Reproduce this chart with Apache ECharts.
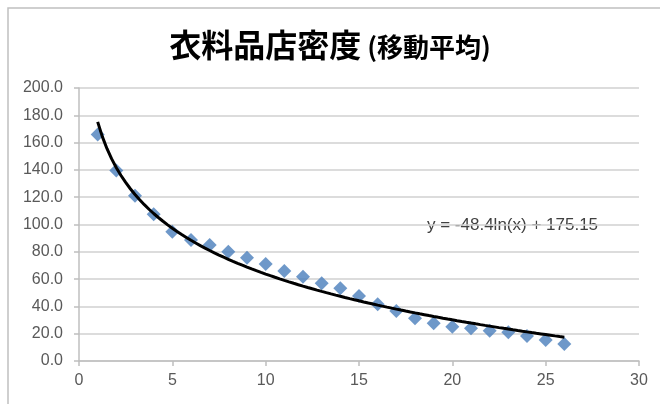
<!DOCTYPE html>
<html><head><meta charset="utf-8">
<script src="https://cdn.jsdelivr.net/npm/echarts@6/dist/echarts.min.js"></script>
<style>html,body{margin:0;padding:0;background:#fff}#c{width:660px;height:404px}</style>
</head><body><div id="c"></div>
<script>
const titleMain = '衣料品店密度';
const titleSub = '(移動平均)';
const xValues = [1,2,3,4,5,6,7,8,9,10,11,12,13,14,15,16,17,18,19,20,21,22,23,24,25,26];
const yValues = [166,139.5,121,107.5,94.7,88.6,85,80,75.7,71,66,61.8,57,53.3,47.6,41.5,36.6,31.3,27.6,25.1,24,22.2,21,18.3,15.4,12.5];
const trendA = -48.4, trendB = 175.15;
const trendLabel = 'y = -48.4ln(x) + 175.15';
const xTicks = [0,5,10,15,20,25,30];

const pts = xValues.map((x,i)=>[x,yValues[i]]);
const trend = [];
for (let x = 1; x <= 26.0001; x += 0.25) trend.push([x, trendA*Math.log(x)+trendB]);

const chart = echarts.init(document.getElementById('c'));
chart.setOption({
  animation:false,
  backgroundColor:'#fff',
  title:{
    text:'{a|'+titleMain+'}{b|'+titleSub+'}',
    left:'center', top:24,
    textStyle:{rich:{
      a:{fontFamily:'Noto Sans CJK JP',fontWeight:'bold',fontSize:32,color:'#000'},
      b:{fontFamily:'Noto Sans CJK JP',fontWeight:'bold',fontSize:26,color:'#000',padding:[4,0,0,6]}
    }}
  },
  grid:{left:79,right:21,top:88,bottom:43},
  xAxis:{type:'value',min:0,max:30,interval:5,
    axisLine:{show:true,onZero:false,lineStyle:{color:'#bfbfbf',width:1.5}},
    axisTick:{show:true,length:5,lineStyle:{color:'#bfbfbf',width:1.5}},
    splitLine:{show:false},
    axisLabel:{color:'#595959',fontSize:16,fontFamily:'Liberation Sans',margin:12,
      formatter:v=>xTicks.includes(v)?String(v):''}
  },
  yAxis:{type:'value',min:0,max:200,interval:20,
    axisLine:{show:true,lineStyle:{color:'#bfbfbf',width:1.5}},
    axisTick:{show:true,length:5,lineStyle:{color:'#bfbfbf',width:1.5}},
    splitLine:{show:true,lineStyle:{color:'#d0d0d0',width:1.5}},
    axisLabel:{color:'#595959',fontSize:16,fontFamily:'Liberation Sans',margin:16,
      formatter:v=>v.toFixed(1)}
  },
  graphic:[
    {type:'polyline',shape:{points:[[8,420],[8,8],[680,8]]},style:{stroke:'#c0c0c0',lineWidth:1.5,fill:null},silent:true},
    {type:'text',left:427,top:217,style:{text:trendLabel,fill:'#404040',font:'17px "Liberation Sans"'}}
  ],
  series:[
    {type:'scatter',data:pts,symbol:'diamond',symbolSize:14,
      itemStyle:{color:'#4a7ebb'},z:2},
    {type:'line',data:trend,showSymbol:false,smooth:false,
      lineStyle:{color:'#000',width:3},z:3}
  ]
});
</script></body></html>
